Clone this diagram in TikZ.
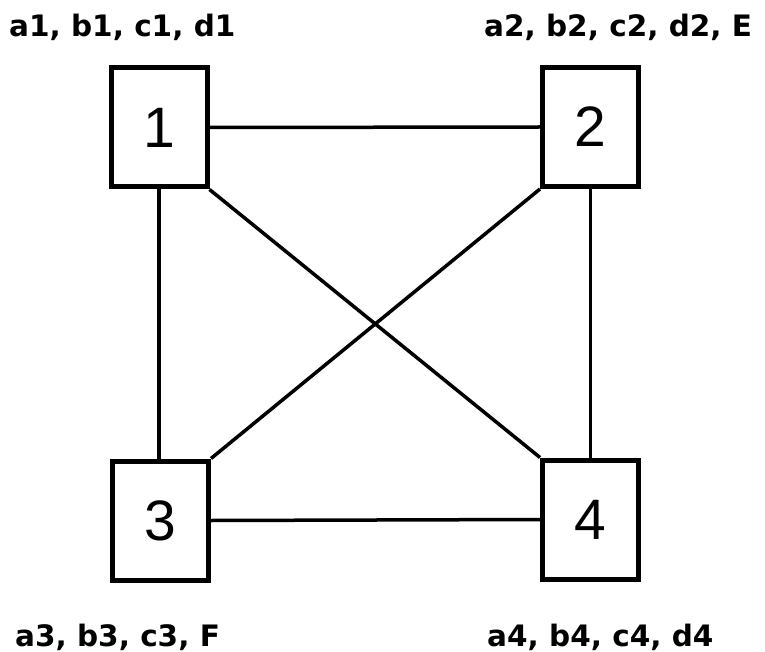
\documentclass[tikz,border=0pt]{standalone}
\usepackage{fontspec}
\setmainfont{DejaVu Sans}
\newfontfamily\digitfont{Liberation Sans}
\begin{document}
\begin{tikzpicture}[x=1pt,y=-1pt,
  pbox/.style={draw, line width=5pt, inner sep=0pt, minimum width=96pt, minimum height=119pt, font=\digitfont\fontsize{57}{60}\selectfont},
  conn/.style={line width=3.5pt},
  lbl/.style={anchor=base west, inner sep=0pt, font=\bfseries\fontsize{29.5}{32}\selectfont}]
\useasboundingbox (0,0) rectangle (765,652);
\node[pbox] (n1) at (159,127.5) {1};
\node[pbox] (n2) at (590.5,127) {2};
\node[pbox] (n3) at (160.5,520.5) {3};
\node[pbox] (n4) at (590.5,519.5) {4};
\draw[conn] (n1.east) -- (n2.west);
\draw[conn] (n3.east) -- (n4.west);
\draw[conn] (n1.south) -- (n1.south |- n3.north);
\draw[conn] (n2.south) -- (n2.south |- n4.north);
\draw[conn] (n1.south east) -- (n4.north west);
\draw[conn] (n2.south west) -- (n3.north east);
\node[lbl] (l1) at (9,37) {a1, b1, c1, d1};
\node[lbl] (l2) at (484,37) {a2, b2, c2, d2, E};
\node[lbl] (l3) at (15,646) {a3, b3, c3, F};
\node[lbl] (l4) at (487,646) {a4, b4, c4, d4};
\end{tikzpicture}
\end{document}
